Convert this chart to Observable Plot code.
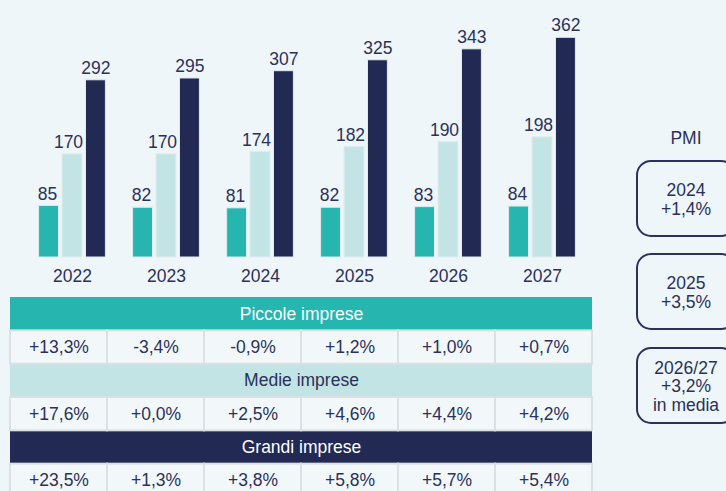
<!DOCTYPE html>
<html>
<head>
<meta charset="utf-8">
<script src="https://cdn.jsdelivr.net/npm/d3@7"></script>
<script src="https://cdn.jsdelivr.net/npm/@observablehq/plot@0.6"></script>
<style>
  html, body { margin: 0; padding: 0; }
  body { width: 726px; height: 491px; overflow: hidden; background: #eef6f9; position: relative;
         font-family: "Liberation Sans", Arial, sans-serif; color: #2b3158; }
  #bars, #table { position: absolute; left: 0; }
  #bars { top: 0; }
  #table { top: 297px; }
  .pmi-title { position: absolute; left: 636px; width: 100px; top: 128px; text-align: center; font-size: 17.5px; }
  .pmi-box { position: absolute; left: 636px; width: 100px; border: 2px solid #2b3158; border-radius: 15px;
             display: flex; align-items: center; justify-content: center; text-align: center;
             font-size: 17.5px; line-height: 18.5px; box-sizing: border-box; padding-top: 2px; }
  svg { overflow: visible; }
</style>
</head>
<body>
<div id="bars"></div>
<div id="table"></div>
<div class="pmi-title">PMI</div>
<div id="pmi"></div>
<script>
// ---- data ----
const years = ["2022", "2023", "2024", "2025", "2026", "2027"];
const series = ["Piccole imprese", "Medie imprese", "Grandi imprese"];
const piccole = [85, 82, 81, 82, 83, 84];
const medie = [170, 170, 174, 182, 190, 198];
const grandi = [292, 295, 307, 325, 343, 362];
const growthPiccole = [13.3, -3.4, -0.9, 1.2, 1.0, 0.7];
const growthMedie = [17.6, 0.0, 2.5, 4.6, 4.4, 4.2];
const growthGrandi = [23.5, 1.3, 3.8, 5.8, 5.7, 5.4];
const pmiLabels = [["2024", "+1,4%"], ["2025", "+3,5%"], ["2026/27", "+3,2%", "in media"]];

const colors = ["#27b5b0", "#c3e4e5", "#222a54"];
const textColor = "#2b3158";
const font = "Liberation Sans, Arial, sans-serif";

// ---- bar chart ----
const seriesValues = [piccole, medie, grandi];
const barData = [];
years.forEach((y, i) => series.forEach((s, j) => barData.push({year: y, series: s, value: seriesValues[j][i]})));
const labelShift = [-1.5, -4, 0];

const bars = Plot.plot({
  width: 600,
  height: 290,
  marginLeft: 24.5,
  marginRight: 11,
  marginTop: 10,
  marginBottom: 33,
  style: {background: "transparent", fontFamily: font, color: textColor},
  fx: {domain: years, padding: 0, axis: null},
  x: {domain: series, paddingInner: 0.15, paddingOuter: 0.58, axis: null, round: false},
  y: {domain: [0, 407], axis: null},
  color: {domain: series, range: colors},
  marks: [
    Plot.barY(barData, {fx: "year", x: "series", y: "value", fill: "series", stroke: "#dfecef", strokeWidth: 1}),
    ...series.map((s, j) => Plot.text(barData.filter(d => d.series === s), {
      fx: "year", x: "series", y: "value", text: d => String(d.value), dy: -12, dx: labelShift[j],
      lineAnchor: "middle", fontSize: 17.5, fill: textColor})),
    Plot.text(years, {fx: d => d, text: d => d, frameAnchor: "bottom", dy: 19, lineAnchor: "middle",
      fontSize: 17.5, fill: textColor})
  ]
});
document.getElementById("bars").appendChild(bars);

// ---- table ----
const fmt = v => (v < 0 ? "-" : "+") + Math.abs(v).toFixed(1).replace(".", ",") + "%";
const rows = ["h0", "v0", "h1", "v1", "h2", "v2"];
const headerData = series.map((s, j) => ({row: "h" + j, label: s, fill: colors[j], text: j === 1 ? textColor : "#ffffff"}));
const growth = [growthPiccole, growthMedie, growthGrandi];
const cellData = [];
growth.forEach((g, j) => years.forEach((y, i) => cellData.push({row: "v" + j, year: y, label: fmt(g[i])})));

const table = Plot.plot({
  width: 600,
  height: 200,
  marginLeft: 10,
  marginRight: 8,
  marginTop: 0,
  marginBottom: 0,
  style: {background: "transparent", fontFamily: font, color: textColor},
  x: {domain: years, padding: 0, axis: null, round: false},
  y: {domain: rows, padding: 0, axis: null, round: false},
  marks: [
    Plot.cell(headerData, {y: "row", fill: d => d.fill}),
    Plot.cell(cellData, {x: "year", y: "row", fill: "#f2f8fa", stroke: "#dae0e3", strokeWidth: 2}),
    Plot.text(headerData, {y: "row", text: "label", fill: d => d.text, fontSize: 17.5}),
    Plot.text(cellData, {x: "year", y: "row", text: "label", fill: textColor, fontSize: 17.5})
  ]
});
document.getElementById("table").appendChild(table);

// ---- PMI boxes ----
const boxTops = [160, 253, 347];
const pmi = document.getElementById("pmi");
pmiLabels.forEach((lines, i) => {
  const div = document.createElement("div");
  div.className = "pmi-box";
  div.style.top = boxTops[i] + "px";
  div.style.height = "77px";
  div.innerHTML = lines.join("<br>");
  pmi.appendChild(div);
});
</script>
</body>
</html>
